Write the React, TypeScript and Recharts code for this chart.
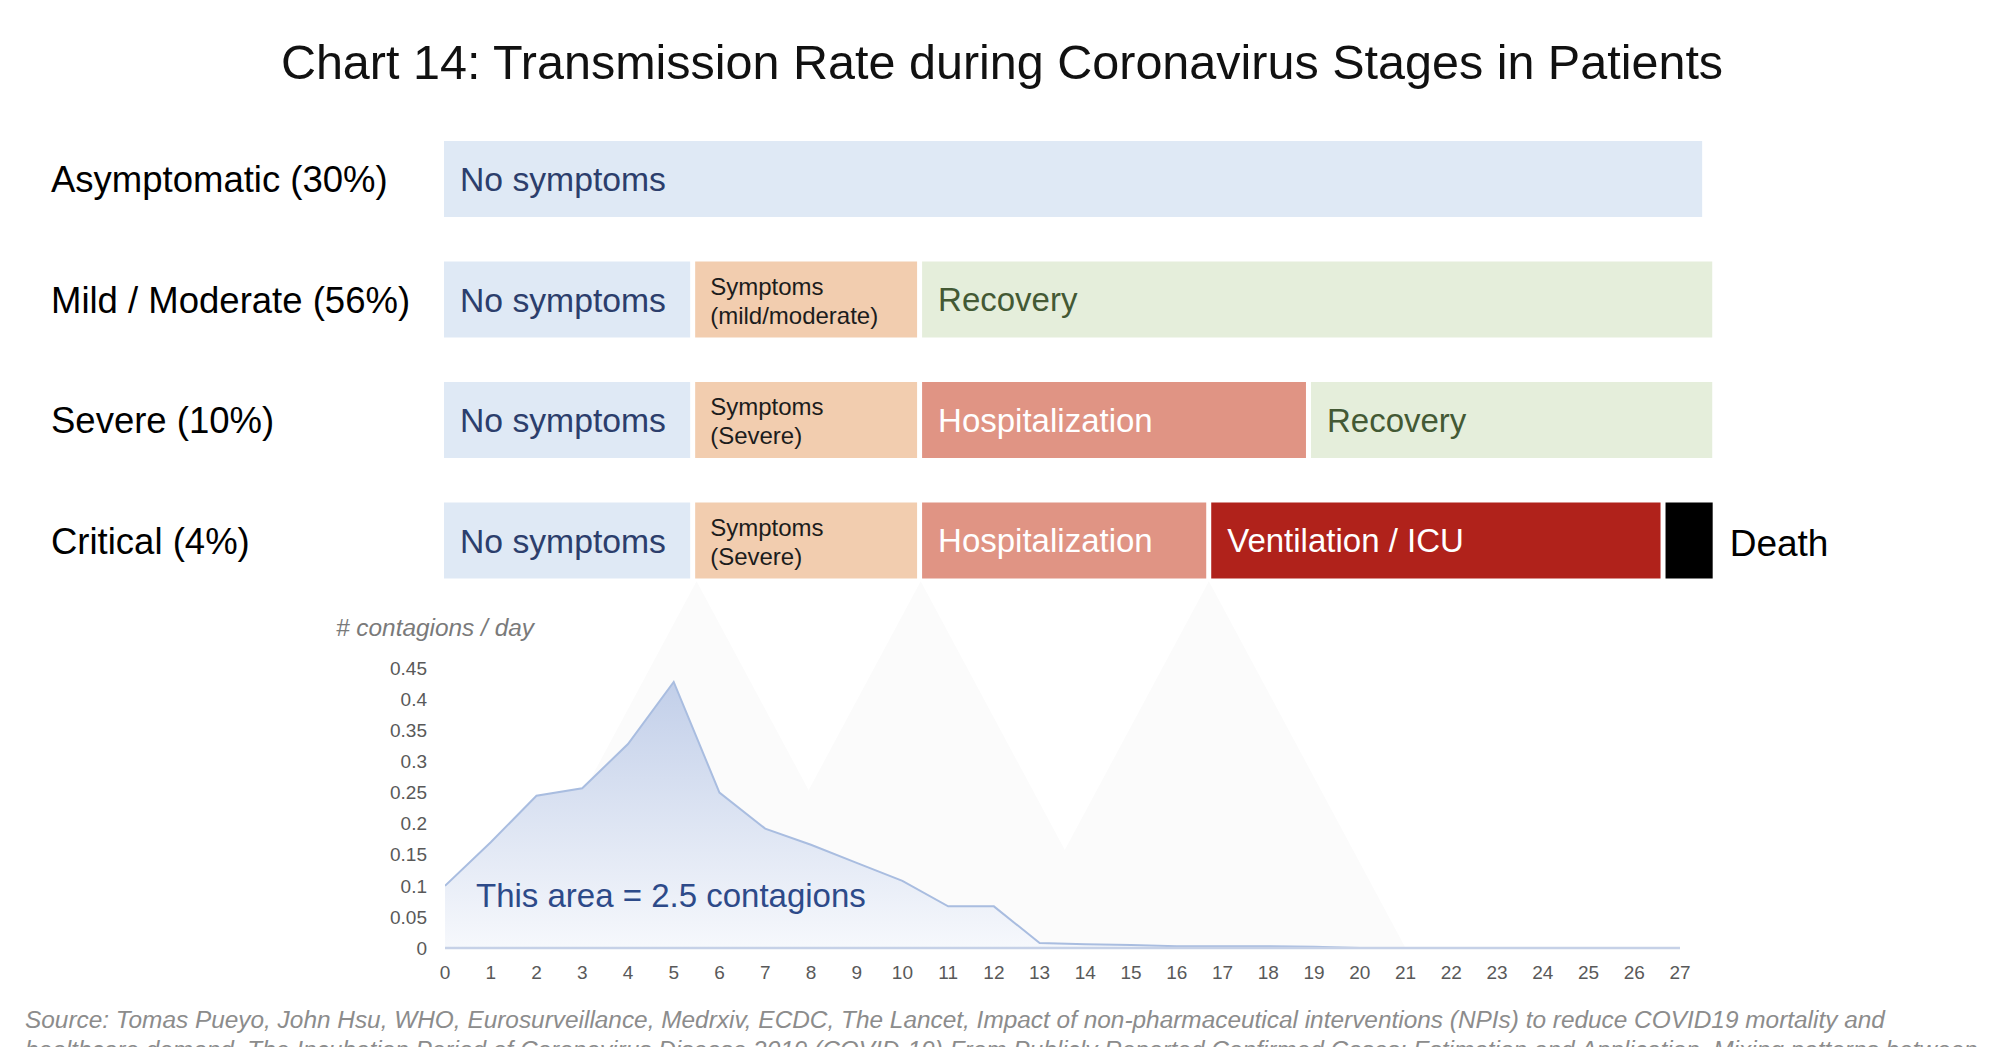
import React from 'react';
import { ComposedChart, Area, XAxis, YAxis, BarChart, Bar, LabelList } from 'recharts';

// ---------- Data ----------
const days = [0, 1, 2, 3, 4, 5, 6, 7, 8, 9, 10, 11, 12, 13, 14, 15, 16, 17, 18, 19, 20, 21, 22, 23, 24, 25, 26, 27];
const contagionsPerDay = [0.1, 0.17, 0.245, 0.257, 0.328, 0.428, 0.25, 0.192, 0.166, 0.137, 0.108, 0.067, 0.067, 0.008, 0.006, 0.005, 0.003, 0.003, 0.003, 0.002, 0, 0, 0, 0, 0, 0, 0, 0];
const yTicks = [0, 0.05, 0.1, 0.15, 0.2, 0.25, 0.3, 0.35, 0.4, 0.45];
const yTickLabels = ['0', '0.05', '0.1', '0.15', '0.2', '0.25', '0.3', '0.35', '0.4', '0.45'];

// faint background "mountains"
const mountain1Days = [1.2, 5.5, 9.8];
const mountain2Days = [6.1, 10.4, 14.7];
const mountain3Days = [12.4, 16.7, 21.0];
const mountainHeights = [0, 0.59, 0];

const patientGroups = ['Asymptomatic (30%)', 'Mild / Moderate (56%)', 'Severe (10%)', 'Critical (4%)'];
const noSymptomsDays = [27.61, 5.49, 5.49, 5.49];
const symptomsDays = [0, 4.96, 4.96, 4.96];
const hospitalizationDays = [0, 0, 8.5, 6.32];
const ventilationDays = [0, 0, 0, 9.93];
const deathDays = [0, 0, 0, 1.14];
const recoveryDays = [0, 17.38, 8.88, 0];
const symptomsSubLabels = ['', '(mild/moderate)', '(Severe)', '(Severe)'];

const TITLE = 'Chart 14: Transmission Rate during Coronavirus Stages in Patients';
const SOURCE_1 = 'Source: Tomas Pueyo, John Hsu, WHO, Eurosurveillance, Medrxiv, ECDC, The Lancet, Impact of non-pharmaceutical interventions (NPIs) to reduce COVID19 mortality and';
const SOURCE_2 = 'healthcare demand, The Incubation Period of Coronavirus Disease 2019 (COVID-19) From Publicly Reported Confirmed Cases: Estimation and Application, Mixing patterns between';

// ---------- Built tables ----------
const curveData = days.map((d, i) => ({ day: d, value: contagionsPerDay[i] }));
const mk = (xs: number[]) => xs.map((d, i) => ({ day: d, value: mountainHeights[i] }));
const mountain1 = mk(mountain1Days);
const mountain2 = mk(mountain2Days);
const mountain3 = mk(mountain3Days);

const stageRows = patientGroups.map((g, i) => ({
  name: g,
  ns: noSymptomsDays[i],
  sym: symptomsDays[i],
  hosp: hospitalizationDays[i],
  vent: ventilationDays[i],
  death: deathDays[i],
  rec: recoveryDays[i],
}));

const FONT = '"Liberation Sans", Arial, Helvetica, sans-serif';

const GapRect = (props: any) => {
  const { x, y, width, height, fill } = props;
  const w = width - 5;
  if (!(w > 0)) return <g />;
  return <rect x={x} y={y} width={w} height={height} fill={fill} />;
};

const getBox = (props: any) => {
  const vb = props.viewBox || {};
  return {
    x: props.x ?? vb.x,
    y: props.y ?? vb.y,
    width: props.width ?? vb.width,
    height: props.height ?? vb.height,
  };
};

const segLabel = (text: string, color: string, size: number) => (props: any) => {
  const { value } = props;
  if (!value) return null;
  const b = getBox(props);
  return (
    <text x={b.x + 16} y={b.y + b.height / 2 + 0.358 * size} fill={color} fontSize={size} fontFamily={FONT}>
      {text}
    </text>
  );
};

const symLabel = (props: any) => {
  const { value, index } = props;
  if (!value) return null;
  const b = getBox(props);
  const yc = b.y + b.height / 2;
  return (
    <g>
      <text x={b.x + 15} y={yc - 5} fill="#1c1c1c" fontSize={24} fontFamily={FONT}>Symptoms</text>
      <text x={b.x + 15} y={yc + 24} fill="#1c1c1c" fontSize={24} fontFamily={FONT}>{symptomsSubLabels[index]}</text>
    </g>
  );
};

const deathLabel = (props: any) => {
  const { value } = props;
  if (!value) return null;
  const b = getBox(props);
  return (
    <text x={b.x + b.width + 12} y={b.y + b.height / 2 + 0.358 * 37 + 2} fill="#000" fontSize={37} fontFamily={FONT}>
      Death
    </text>
  );
};

const GroupTick = (props: any) => {
  const { y, payload } = props;
  return (
    <text x={51} y={y + 0.358 * 36.5} fill="#000" fontSize={36.5} fontFamily={FONT}>
      {payload.value}
    </text>
  );
};

export default function App() {
  return (
    <div style={{ position: 'absolute', left: 0, top: 0, width: 2000, height: 1047, overflow: 'hidden', background: '#fff' }}>
      {/* bottom curve chart */}
      <div style={{ position: 'absolute', left: 0, top: 560 }}>
        <ComposedChart width={2000} height={440} margin={{ top: 15, right: 320, bottom: 22, left: 0 }}>
          <defs>
            <linearGradient id="areaGrad" x1="0" y1="0" x2="0" y2="1">
              <stop offset="0%" stopColor="#c2cfe9" />
              <stop offset="100%" stopColor="#f6f8fc" />
            </linearGradient>
          </defs>
          <XAxis
            dataKey="day"
            type="number"
            domain={[0, 27]}
            ticks={days}
            interval={0}
            height={30}
            axisLine={{ stroke: '#c6d1e7', strokeWidth: 2.5 }}
            tickLine={false}
            tickSize={6}
            tickMargin={12}
            tick={{ fill: '#595959', fontSize: 19, fontFamily: FONT }}
            allowDataOverflow
          />
          <YAxis
            type="number"
            domain={[0, 0.6]}
            ticks={yTicks}
            interval={0}
            width={445}
            axisLine={false}
            tickLine={false}
            tickSize={6}
            tickMargin={12}
            tickFormatter={(v: number) => yTickLabels[yTicks.indexOf(v)] ?? String(v)}
            tick={{ fill: '#595959', fontSize: 19, fontFamily: FONT }}
            allowDataOverflow
          />
          <Area data={mountain1} dataKey="value" type="linear" fill="#fbfbfb" fillOpacity={1} stroke="none" isAnimationActive={false} dot={false} activeDot={false} />
          <Area data={mountain2} dataKey="value" type="linear" fill="#fbfbfb" fillOpacity={1} stroke="none" isAnimationActive={false} dot={false} activeDot={false} />
          <Area data={mountain3} dataKey="value" type="linear" fill="#fbfbfb" fillOpacity={1} stroke="none" isAnimationActive={false} dot={false} activeDot={false} />
          <Area data={curveData} dataKey="value" type="linear" fill="url(#areaGrad)" fillOpacity={1} stroke="#a9bde0" strokeWidth={2} isAnimationActive={false} dot={false} activeDot={false} />
        </ComposedChart>
      </div>

      {/* top stage bars */}
      <div style={{ position: 'absolute', left: 0, top: 119 }}>
        <BarChart width={2000} height={482} layout="vertical" data={stageRows} margin={{ top: 0, right: 275, bottom: 0, left: 0 }} barSize={76}>
          <XAxis type="number" domain={[0, 28]} hide allowDataOverflow />
          <YAxis type="category" dataKey="name" width={444} axisLine={false} tickLine={false} tick={<GroupTick />} interval={0} />
          <Bar dataKey="ns" stackId="s" fill="#dfe9f5" shape={GapRect} isAnimationActive={false}>
            <LabelList dataKey="ns" content={segLabel('No symptoms', '#2c3e6c', 33.7)} />
          </Bar>
          <Bar dataKey="sym" stackId="s" fill="#f2cdaf" shape={GapRect} isAnimationActive={false}>
            <LabelList dataKey="sym" content={symLabel} />
          </Bar>
          <Bar dataKey="hosp" stackId="s" fill="#e09484" shape={GapRect} isAnimationActive={false}>
            <LabelList dataKey="hosp" content={segLabel('Hospitalization', '#ffffff', 33)} />
          </Bar>
          <Bar dataKey="vent" stackId="s" fill="#b0221b" shape={GapRect} isAnimationActive={false}>
            <LabelList dataKey="vent" content={segLabel('Ventilation / ICU', '#ffffff', 33)} />
          </Bar>
          <Bar dataKey="death" stackId="s" fill="#000000" shape={GapRect} isAnimationActive={false}>
            <LabelList dataKey="death" content={deathLabel} />
          </Bar>
          <Bar dataKey="rec" stackId="s" fill="#e5eedb" shape={GapRect} isAnimationActive={false}>
            <LabelList dataKey="rec" content={segLabel('Recovery', '#435934', 33)} />
          </Bar>
        </BarChart>
      </div>

      {/* text overlay */}
      <svg width={2000} height={1047} style={{ position: 'absolute', left: 0, top: 0, pointerEvents: 'none' }}>
        <text x={1002} y={79} textAnchor="middle" fontSize={48.5} fill="#111" fontFamily={FONT}>{TITLE}</text>
        <text x={336} y={636} fontSize={24.4} fill="#7a7a7a" fontStyle="italic" fontFamily={FONT}># contagions / day</text>
        <text x={476} y={907} fontSize={33} fill="#2d4a89" fontFamily={FONT}>This area = 2.5 contagions</text>
        <text x={25} y={1028} fontSize={24.4} fill="#8c8c8c" fontStyle="italic" fontFamily={FONT}>{SOURCE_1}</text>
        <text x={25} y={1058} fontSize={24.4} fill="#8c8c8c" fontStyle="italic" fontFamily={FONT}>{SOURCE_2}</text>
      </svg>
    </div>
  );
}
